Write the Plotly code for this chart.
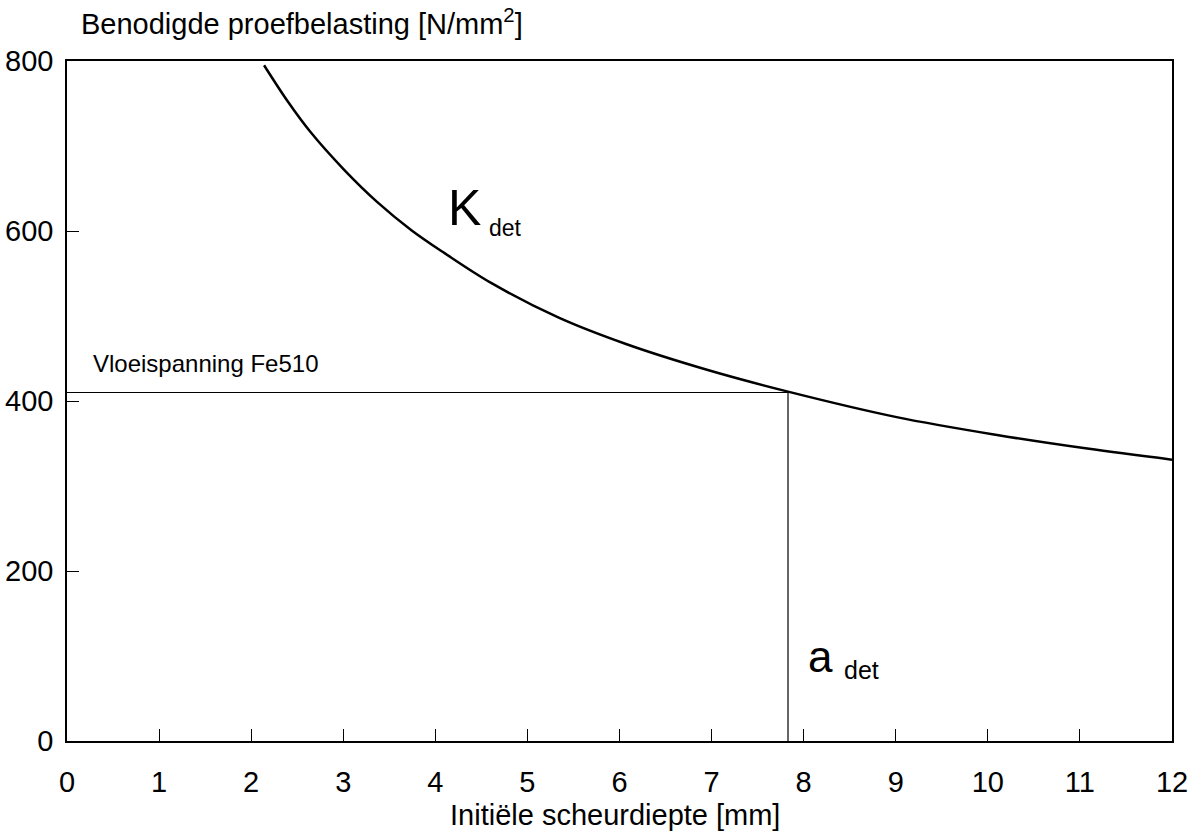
import plotly.graph_objects as go

# Data
crack_depth = [2.14, 2.40, 2.64, 3.01, 3.37, 3.74, 4.10, 4.62, 5.34, 6.07, 6.94, 7.83, 9.01, 10.10, 11.08, 12.0]
required_load = [795, 752, 717, 672, 634, 601, 574, 538, 498, 467, 437, 411, 381, 360, 344, 331]

yield_stress = 410      # Vloeispanning Fe510 [N/mm2]
a_det = 7.83            # critical crack depth [mm]

x_ticks = list(range(0, 13))
y_ticks = [0, 200, 400, 600, 800]

FONT = "Arial, Liberation Sans, Helvetica, sans-serif"

fig = go.Figure()

# K_det curve
fig.add_trace(go.Scatter(
    x=crack_depth, y=required_load, mode="lines",
    line=dict(color="black", width=2.5, shape="spline", smoothing=1.0),
    showlegend=False, hoverinfo="skip"))

# yield stress line
fig.add_trace(go.Scatter(
    x=[0, a_det], y=[yield_stress, yield_stress], mode="lines",
    line=dict(color="black", width=1.2), showlegend=False, hoverinfo="skip"))

# a_det vertical line
fig.add_trace(go.Scatter(
    x=[a_det, a_det], y=[0, yield_stress], mode="lines",
    line=dict(color="black", width=1.2), showlegend=False, hoverinfo="skip"))

axis_common = dict(
    showgrid=False, zeroline=False, showline=True, linecolor="black", linewidth=1.5,
    mirror=True, ticks="inside", ticklen=12, tickwidth=1.2, tickcolor="black",
    tickfont=dict(family=FONT, size=29, color="black"),
)

fig.update_xaxes(range=[0, 12], tickvals=x_ticks, ticktext=[str(v) for v in x_ticks],
                 ticklabelstandoff=14, **axis_common)
fig.update_yaxes(range=[0, 800], tickvals=y_ticks, ticktext=[str(v) for v in y_ticks],
                 ticklabelstandoff=6, **axis_common)

annotations = [
    dict(text="Benodigde proefbelasting [N/mm<sup>2</sup>]", xref="paper", yref="paper",
         x=0.011, y=1.057, xanchor="left", yanchor="middle", showarrow=False,
         font=dict(family=FONT, size=29, color="black")),
    dict(text="Initiële scheurdiepte [mm]", xref="paper", yref="paper",
         x=0.496, y=-0.109, xanchor="center", yanchor="middle", showarrow=False,
         font=dict(family=FONT, size=29, color="black")),
    dict(text="Vloeispanning Fe510", xref="x", yref="y", x=0.26, y=444,
         xanchor="left", yanchor="middle", showarrow=False,
         font=dict(family=FONT, size=24, color="black")),
    dict(text="K", xref="x", yref="y", x=4.12, y=627,
         xanchor="left", yanchor="middle", showarrow=False,
         font=dict(family=FONT, size=50, color="black")),
    dict(text="det", xref="x", yref="y", x=4.56, y=604,
         xanchor="left", yanchor="middle", showarrow=False,
         font=dict(family=FONT, size=23, color="black")),
    dict(text="a", xref="x", yref="y", x=8.03, y=99,
         xanchor="left", yanchor="middle", showarrow=False,
         font=dict(family=FONT, size=44, color="black")),
    dict(text="det", xref="x", yref="y", x=8.42, y=83,
         xanchor="left", yanchor="middle", showarrow=False,
         font=dict(family=FONT, size=25, color="black")),
]

fig.update_layout(
    width=1204, height=838,
    margin=dict(l=67, r=32, t=61, b=97, autoexpand=False),
    paper_bgcolor="white", plot_bgcolor="white",
    annotations=annotations,
    font=dict(family=FONT, color="black"),
)

fig.write_html("out.html")
